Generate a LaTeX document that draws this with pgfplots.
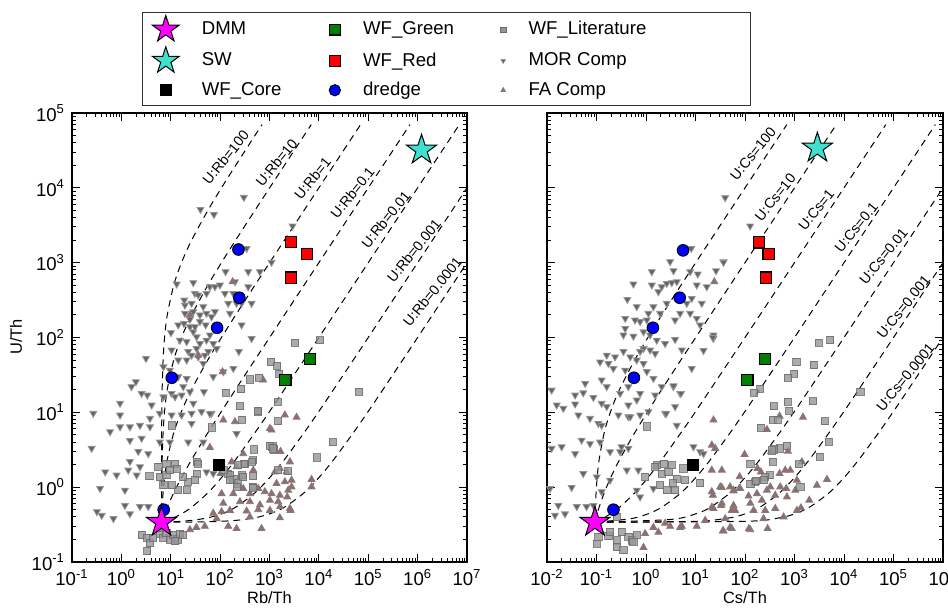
\documentclass[border=0pt]{standalone}
\usepackage{fontspec}
\setmainfont{Liberation Sans}
\usepackage{pgfplots}
\pgfplotsset{compat=1.18}

\definecolor{morfill}{RGB}{100,100,100}
\definecolor{mordraw}{RGB}{150,150,150}
\definecolor{fafill}{RGB}{155,105,105}
\definecolor{fadraw}{RGB}{125,125,125}
\definecolor{litfill}{RGB}{150,150,150}
\definecolor{litdraw}{RGB}{105,105,105}
\definecolor{wfgreen}{RGB}{0,128,0}
\definecolor{turq}{RGB}{64,224,208}
\definecolor{dmmmag}{RGB}{255,0,255}
\definecolor{pure red}{RGB}{255,0,0}
\definecolor{pure blue}{RGB}{0,0,255}
\definecolor{legdraw}{RGB}{50,50,50}

\pgfdeclareplotmark{fstar}{%
\pgfpathmoveto{\pgfpointpolar{90}{\pgfplotmarksize}}%
\pgfpathlineto{\pgfpointpolar{126}{0.382\pgfplotmarksize}}%
\pgfpathlineto{\pgfpointpolar{162}{\pgfplotmarksize}}%
\pgfpathlineto{\pgfpointpolar{198}{0.382\pgfplotmarksize}}%
\pgfpathlineto{\pgfpointpolar{234}{\pgfplotmarksize}}%
\pgfpathlineto{\pgfpointpolar{270}{0.382\pgfplotmarksize}}%
\pgfpathlineto{\pgfpointpolar{306}{\pgfplotmarksize}}%
\pgfpathlineto{\pgfpointpolar{342}{0.382\pgfplotmarksize}}%
\pgfpathlineto{\pgfpointpolar{18}{\pgfplotmarksize}}%
\pgfpathlineto{\pgfpointpolar{54}{0.382\pgfplotmarksize}}%
\pgfpathclose\pgfusepathqfillstroke}

\tikzset{lab/.style={font=\fontsize{7.1}{8}\selectfont, rotate=51, inner sep=0pt}}

\pgfplotsset{
 mor/.style={only marks, mark=triangle*, mark size=2pt, mark options={rotate=180, fill=morfill, draw=mordraw, line width=0.4pt}},
 fa/.style={only marks, mark=triangle*, mark size=2pt, mark options={fill=fafill, draw=fadraw, line width=0.4pt}},
 lit/.style={only marks, mark=square*, mark size=1.8pt, mark options={fill=litfill, draw=litdraw, line width=0.4pt, opacity=0.8}},
 core/.style={only marks, mark=square*, mark size=2.8pt, mark options={fill=black, draw=black, line width=0.5pt}},
 grn/.style={only marks, mark=square*, mark size=2.8pt, mark options={fill=wfgreen, draw=black, line width=0.6pt}},
 rd/.style={only marks, mark=square*, mark size=2.8pt, mark options={fill=pure red, draw=black, line width=0.6pt}},
 drd/.style={only marks, mark=*, mark size=2.9pt, mark options={fill=pure blue, draw=black, line width=0.5pt}},
 dmm/.style={only marks, mark=fstar, mark size=7.9pt, mark options={fill=dmmmag, draw=black, line width=0.5pt}},
 sw/.style={only marks, mark=fstar, mark size=7.9pt, mark options={fill=turq, draw=black, line width=0.5pt}},
 mix/.style={black, line width=0.5pt, dash pattern=on 3.4pt off 2.6pt, smooth, no markers},
}

\begin{document}
\begin{tikzpicture}
%================ LEFT PANEL =================
\begin{axis}[xmode=log, ymode=log, scale only axis, width=197.5pt, height=224.5pt,
  at={(36pt,-281pt)}, anchor=south west,
  xmin=0.1, xmax=1e7, ymin=0.1, ymax=1e5,
  tick align=inside, major tick length=4pt, minor tick length=2pt,
  tick style={black, line width=0.5pt}, axis line style={line width=1pt},
  tick label style={font=\fontsize{9.3}{10}\selectfont},
  xticklabel={10\textsuperscript{\pgfmathparse{int(round(\tick/2.302585093))}\pgfmathresult}},
  yticklabel={10\textsuperscript{\pgfmathparse{int(round(\tick/2.302585093))}\pgfmathresult}},
  label style={font=\fontsize{8.2}{10}\selectfont},
  xlabel={Rb/Th}, ylabel={U/Th},
  xlabel style={at={(axis description cs:0.5,-0.0802)}, anchor=center},
  ylabel style={at={(axis description cs:-0.1418,0.501)}, anchor=center},
  legend columns=3, legend cell align=left,
  legend style={at={(axis description cs:0.1772,1.2249)}, anchor=north west,
    draw=legdraw, line width=0.5pt, fill=white,
    font=\fontsize{9.3}{11}\selectfont, inner xsep=5pt, inner ysep=1.5pt,
    row sep=2.5pt}]

\addplot[mor, forget plot] table {
x y
13.2 518
28.6 540
30.9 388
36 369
53 388
62 476
78.5 476
99 502
129 757
200 556
371 757
640 757
371 476
125 388
185 388
146 286
215 286
272 286
434 286
158 210
272 147
434 97
240 65
185 38.6
116 34.8
72.6 29.9
47 18.8
67 9.7
42 10.2
26.4 9.7
16.6 9.2
10.4 9.2
6.0 9.7
3.8 8.3
0.94 13.2
0.94 9.2
0.27 9.7
1.6 22
1.97 25.6
3.15 52.5
2.57 17.9
3.35 17
4.1 12.5
7.1 16.1
10.4 17.9
12.2 16.1
16.6 17
24.5 18.8
28.6 13.2
17.9 22
21 28.4
14.2 29.9
9.6 36.6
7.1 40.6
10.4 68
14.2 50
21 50
22.6 65
21 88
15.3 92
10.1 116
14.2 147
18.5 154
24.5 139
28.6 119
33.4 102
39 83
33.4 71
26.4 58
36 55
49 58
45.5 45
53 92
62 108
72.6 83
85 71
57.5 65
19.4 210
28.6 221
39 200
53 210
67 189
78.5 221
45.5 258
26.4 286
19.4 271
24.5 175
39 163
51 147
30.9 139
18.8 316
40 5150
75 4400
303 7460
344 1550
1100 1010
2930 3090
0.59 5.5
0.94 6.4
1.49 6.4
2.38 6.7
3.8 6.4
26.4 7.1
0.25 3.3
1.49 4.2
2.57 4.5
2.2 3.0
3.5 2.8
1.49 2.2
2.38 1.87
1.38 1.69
0.47 1.6
0.80 1.45
2.04 1.45
22.6 4.0
53 1.6
72.6 1.52
215 5.2
0.37 0.96
1.18 0.91
0.69 0.38
1.18 0.57
2.38 0.55
0.32 0.47
0.40 0.42
1.49 0.44
3.5 0.55
9.6 4.0
6.0 4.0
45.6 4.0
62 9.6
};

\addplot[fa, forget plot] table {
x y
112 34.8
746 27
2050 9.2
3530 8.6
1020 6.1
1100 5.8
62 3.4
294 2.8
1670 3.0
2590 2.18
171 2.18
215 1.87
102 1.52
469 1.69
1290 1.6
1620 1.78
2210 1.6
2800 1.24
2050 1.18
1390 1.12
294 0.96
107 0.82
185 0.82
401 0.82
592 0.96
807 0.87
1100 0.82
1620 0.78
2390 0.91
2800 1.01
7100 1.27
7100 1.01
252 0.64
401 0.64
640 0.58
1020 0.67
1500 0.64
2290 0.74
116 0.61
107 0.47
158 0.49
344 0.48
592 0.50
1020 0.49
1620 0.39
2670 0.49
72.6 0.45
85 0.38
146 0.30
215 0.28
401 0.40
690 0.28
49 0.30
24.5 0.27
33 0.29
116 7.9
200 7.5
2590 0.52
1630 0.55
24.5 200
36 58
179 556
};

\addplot[lit, forget plot] table {
x y
10.4 6.7
5.6 1.87
8.2 2.07
12.2 2.07
13.2 1.77
33.4 2.18
33.4 1.52
30.9 1.24
22.6 1.18
21 0.91
14.2 0.91
10.4 1.06
7.1 1.06
6.0 1.37
3.7 1.40
8.2 1.45
9.6 1.69
17.9 1.37
146 1.52
185 1.30
318 2.07
272 1.45
469 2.30
592 10.2
2.57 0.23
3.35 0.21
3.8 0.18
3.35 0.14
4.4 0.21
6.0 0.24
7.1 0.21
9.6 0.20
11.2 0.23
14.2 0.20
8.2 0.245
3270 85
10500 92
1070 47
1430 42
1570 33
401 27.5
610 29
129 18.3
264 20.5
252 12.1
573 10.5
1460 13.8
281 8.0
67 6.3
1500 7.6
491 3.2
1150 3.5
1250 3.2
447 2.18
308 2.03
158 1.45
469 1.40
225 1.12
454 1.01
2390 1.64
65000 18.8
19000 4.0
9000 2.5
36 2.07
233 1.97
294 1.37
216 1.01
469 0.99
1020 3.6
1190 3.3
1500 1.69
158 1.24
116 1.69
6.05 0.29
15.4 0.24
12.2 0.19
17.9 0.23
};

\addplot[mix, forget plot] coordinates {(6.5,0.34)(6.5,0.44)(6.5,0.54)(6.505,0.84)(6.51,1.34)(6.52,2.34)(6.55,5.34)(6.6,10.3)(6.7,20.3)(7.0,50.3)(7.5,100)(8.5,200)(11.5,500)(16.5,1000)(26.5,2000)(56.5,5000)(106.5,10000)(206.5,20000)(506.5,50000)(706.5,70000)};
\addplot[mix, forget plot] coordinates {(6.5,0.34)(6.51,0.44)(6.52,0.54)(6.55,0.84)(6.6,1.34)(6.7,2.34)(7.0,5.34)(7.5,10.3)(8.5,20.3)(11.5,50.3)(16.5,100)(26.5,200)(56.5,500)(106.5,1000)(206.5,2000)(506.5,5000)(1006.5,10000)(2006.5,20000)(5006.5,50000)(7006.5,70000)};
\addplot[mix, forget plot] coordinates {(6.5,0.34)(6.6,0.44)(6.7,0.54)(7.0,0.84)(7.5,1.34)(8.5,2.34)(11.5,5.34)(16.5,10.3)(26.5,20.3)(56.5,50.3)(106.5,100)(206.5,200)(506.5,500)(1006.5,1000)(2006.5,2000)(5006.5,5000)(10006,10000)(70000,70000)};
\addplot[mix, forget plot] coordinates {(6.5,0.34)(7.5,0.44)(8.5,0.54)(11.5,0.84)(16.5,1.34)(26.5,2.34)(56.5,5.34)(106.5,10.3)(206.5,20.3)(506.5,50.3)(1006.5,100)(2006.5,200)(5006.5,500)(10000,1000)(100000,10000)(700000,70000)};
\addplot[mix, forget plot] coordinates {(6.5,0.34)(8.5,0.36)(11.5,0.39)(16.5,0.44)(26.5,0.54)(56.5,0.84)(106.5,1.34)(206.5,2.34)(506.5,5.34)(1006.5,10.3)(2006.5,20.3)(5006.5,50.3)(10000,100)(100000,1000)(1000000,10000)(7000000,70000)};
\addplot[mix, forget plot] coordinates {(6.5,0.34)(11.5,0.345)(26.5,0.36)(56.5,0.39)(106.5,0.44)(206.5,0.54)(506.5,0.84)(1006.5,1.34)(2006.5,2.34)(5006.5,5.34)(10000,10.3)(20000,20.3)(50000,50.3)(100000,100)(1000000,1000)(10000000,10000)};
\addplot[mix, forget plot] coordinates {(6.5,0.34)(56.5,0.345)(206.5,0.36)(506.5,0.39)(1006.5,0.44)(2006.5,0.54)(5006.5,0.84)(10000,1.34)(20000,2.34)(50000,5.34)(100000,10.3)(200000,20.3)(500000,50.3)(1000000,100)(10000000,1000)};

\node[lab] at (axis cs:130,25500) {U:Rb=100};
\node[lab] at (axis cs:1390,21700) {U:Rb=10};
\node[lab] at (axis cs:7450,13400) {U:Rb=1};
\node[lab] at (axis cs:48000,8600) {U:Rb=0.1};
\node[lab] at (axis cs:227000,3800) {U:Rb=0.01};
\node[lab] at (axis cs:840000,1440) {U:Rb=0.001};
\node[lab] at (axis cs:2000000,408) {U:Rb=0.0001};

\addplot[core, forget plot] coordinates {(95,2.0)};
\addplot[grn, forget plot] coordinates {(2100,27)(6600,52)};
\addplot[rd, forget plot] coordinates {(2700,1900)(5800,1300)(2700,630)};
\addplot[drd, forget plot] coordinates {(235,1500)(245,340)(87,135)(10.5,29)(7.2,0.50)};
\addplot[dmm, forget plot] coordinates {(6.5,0.34)};
\addplot[sw, forget plot] coordinates {(1.2e6,3.2e4)};

\addlegendimage{only marks, mark=fstar, mark size=7pt, mark options={fill=dmmmag, draw=black, line width=0.5pt}}
\addlegendentry{\hspace{9.35pt}\makebox[61.7pt][l]{DMM}}
\addlegendimage{only marks, mark=square*, mark size=2.7pt, mark options={fill=wfgreen, draw=black, line width=0.6pt}}
\addlegendentry{\hspace{9.35pt}\makebox[66.75pt][l]{WF\_Green}}
\addlegendimage{only marks, mark=square*, mark size=1.3pt, mark options={fill=litfill, draw=litdraw, line width=0.3pt}}
\addlegendentry{\hspace{9.35pt}\makebox[104pt][l]{WF\_Literature}}
\addlegendimage{only marks, mark=fstar, mark size=7pt, mark options={fill=turq, draw=black, line width=0.5pt}}
\addlegendentry{\hspace{9.35pt}\makebox[61.7pt][l]{SW}}
\addlegendimage{only marks, mark=square*, mark size=2.7pt, mark options={fill=pure red, draw=black, line width=0.6pt}}
\addlegendentry{\hspace{9.35pt}\makebox[66.75pt][l]{WF\_Red}}
\addlegendimage{only marks, mark=triangle*, mark size=1.4pt, mark options={rotate=180, fill=morfill, draw=mordraw, line width=0.3pt}}
\addlegendentry{\hspace{9.35pt}\makebox[104pt][l]{MOR Comp}}
\addlegendimage{only marks, mark=square*, mark size=2.7pt, mark options={fill=black, draw=black, line width=0.5pt}}
\addlegendentry{\hspace{9.35pt}\makebox[61.7pt][l]{WF\_Core}\rule[-5pt]{0pt}{5pt}}
\addlegendimage{only marks, mark=*, mark size=2.8pt, mark options={fill=pure blue, draw=black, line width=0.5pt}}
\addlegendentry{\hspace{9.35pt}\makebox[66.75pt][l]{dredge}}
\addlegendimage{only marks, mark=triangle*, mark size=1.4pt, mark options={fill=fafill, draw=fadraw, line width=0.3pt}}
\addlegendentry{\hspace{9.35pt}\makebox[104pt][l]{FA Comp}}
\end{axis}

%================ RIGHT PANEL =================
\begin{axis}[xmode=log, ymode=log, scale only axis, width=198pt, height=224.5pt,
  at={(273.5pt,-281pt)}, anchor=south west,
  xmin=0.01, xmax=1e6, ymin=0.1, ymax=1e5,
  tick align=inside, major tick length=4pt, minor tick length=2pt,
  tick style={black, line width=0.5pt}, axis line style={line width=1pt},
  tick label style={font=\fontsize{9.3}{10}\selectfont},
  xticklabel={10\textsuperscript{\pgfmathparse{int(round(\tick/2.302585093))}\pgfmathresult}},
  yticklabels={},
  label style={font=\fontsize{8.2}{10}\selectfont},
  xlabel={Cs/Th},
  xlabel style={at={(axis description cs:0.5,-0.0802)}, anchor=center}]

\addplot[mor, forget plot] table {
x y
3.07 1030
36.7 1030
0.556 518
1.31 502
1.78 409
2.08 476
2.62 528
3.32 540
4.19 556
10.6 502
16.9 476
0.42 323
0.65 258
1.41 258
2.62 286
6.67 286
8.4 333
13.4 286
4.89 210
7.8 210
10.6 180
12.4 147
3.87 171
1.93 210
1.12 210
1.04 171
0.76 163
0.38 180
0.60 171
0.38 132
0.35 108
0.556 104
0.89 119
1.21 108
1.65 92
2.43 83
3.87 94
23 108
23 97
14.5 67
8.4 38.6
5.3 68
0.89 71
1.21 68
1.53 61
0.76 65
0.35 65
0.237 55
0.48 55
0.161 58
0.118 47
0.174 45
0.219 38.6
0.38 36.6
0.65 50
0.89 45
1.04 35
1.41 28.4
2.08 22
3.58 22
4.89 17.9
3.87 11.9
2.43 9.7
1.53 17
0.76 17.9
0.65 14.6
0.44 12.5
0.161 22
0.127 27
0.059 24.3
0.054 18.2
0.037 17
0.0157 12.5
0.0214 11.3
0.037 12.9
0.0865 15.8
0.127 13.2
0.161 11.9
0.30 17.9
0.44 22
0.043 9.2
0.074 8.3
0.277 9.2
0.44 8.7
0.76 9.2
1.12 10.2
39.7 7380
127 3090
36.8 1010
8.2 1550
26 780
11.1 705
7.8 757
3.6 780
1.31 757
22.4 100
3.6 22.6
5.1 17.9
0.109 7.1
0.127 6.7
0.48 8.7
2.55 9.6
4.19 6.7
0.050 4.25
0.074 3.8
0.118 4.0
0.32 3.46
0.44 3.3
0.188 2.97
0.30 2.97
0.0124 3.3
0.0198 3.46
0.037 2.8
0.054 1.52
0.101 1.37
0.188 1.24
0.41 1.69
0.70 1.69
1.41 0.96
9.1 3.46
12.4 2.97
0.0315 0.99
0.0115 0.96
0.127 0.87
0.65 0.91
0.76 0.74
0.0145 0.42
0.0231 0.44
0.0169 0.57
0.040 0.55
0.063 0.55
0.0865 0.57
0.0124 19.8
14.5 2.8
};

\addplot[fa, forget plot] table {
x y
23.1 7.9
277 5.9
500 8.9
1480 8.6
21.4 3.65
25 3.3
98 2.74
179 1.78
209 1.6
333 2.97
736 3.03
1410 2.18
4530 1.27
2840 1.06
1990 0.67
31.6 1.01
78 1.38
80 0.96
22.4 0.78
34 0.61
21.4 0.54
58.7 0.89
118 0.76
128 0.61
174 0.82
219 0.67
277 0.91
324 1.01
408 0.78
515 1.01
682 0.96
703 0.74
1040 0.91
1120 1.24
500 1.52
650 1.69
820 1.69
256 0.49
237 0.38
408 0.52
149 0.49
63 0.49
39.8 0.38
15.7 0.36
10.6 0.30
5.3 0.30
36.8 0.26
54 0.28
128 0.27
286 0.28
1120 0.49
603 0.40
34 1.69
34 0.99
21.3 0.87
23 0.52
50 0.29
1.41 0.29
3.07 0.30
4.9 0.29
0.89 0.156
21.3 1.69
58.6 0.91
54 0.49
0.96 0.24
1.78 0.25
2.43 0.33
33 0.57
58.6 0.57
50 1.01
77 0.96
120 0.28
35.6 0.26
1350 0.53
24 556
};

\addplot[lit, forget plot] table {
x y
3070 85
5280 92.5
1090 47
2430 42.8
990 33
736 29
203 20.8
149 18.3
21400 18.8
2360 14.1
724 13.8
783 10.5
378 12.1
366 8.0
209 6.2
4060 7.6
4900 4.05
3220 2.55
703 3.54
500 3.3
390 3.2
366 2.18
128 2.07
314 1.45
256 1.38
161 1.18
128 1.10
1210 2.03
1310 1.01
12.4 1.14
5.7 1.78
6.2 1.24
1.04 6.5
1.65 1.97
2.32 2.07
3.32 1.97
2.08 1.52
2.84 1.6
4.19 1.30
3.48 1.12
2.62 0.91
3.87 0.91
1.93 1.06
1.53 1.87
0.96 1.37
0.109 0.217
0.101 0.176
0.174 0.221
0.256 0.195
0.256 0.159
0.35 0.144
0.44 0.217
0.51 0.195
0.65 0.228
0.556 0.186
0.188 0.252
0.32 0.252
0.256 0.40
455 8.0
349 3.1
237 1.24
168 1.22
};

\addplot[mix, forget plot] coordinates {(0.093,0.34)(0.094,0.44)(0.095,0.54)(0.098,0.84)(0.103,1.34)(0.113,2.34)(0.143,5.34)(0.193,10.3)(0.293,20.3)(0.593,50.3)(1.093,100)(2.09,200)(5.09,500)(10.1,1000)(20.1,2000)(100,10000)(700,70000)};
\addplot[mix, forget plot] coordinates {(0.093,0.34)(0.103,0.44)(0.113,0.54)(0.143,0.84)(0.193,1.34)(0.293,2.34)(0.593,5.34)(1.093,10.3)(2.09,20.3)(5.09,50.3)(10.1,100)(20.1,200)(100,1000)(1000,10000)(7000,70000)};
\addplot[mix, forget plot] coordinates {(0.093,0.34)(0.193,0.44)(0.293,0.54)(0.593,0.84)(1.093,1.34)(2.09,2.34)(5.09,5.34)(10.1,10.3)(100,100)(1000,1000)(70000,70000)};
\addplot[mix, forget plot] coordinates {(0.093,0.34)(0.5,0.38)(1.093,0.44)(2.09,0.54)(5.09,0.84)(10.1,1.34)(20.1,2.34)(50.1,5.34)(100,10.3)(200,20.3)(1000,100)(10000,1000)(700000,70000)};
\addplot[mix, forget plot] coordinates {(0.093,0.34)(3.09,0.37)(10.1,0.44)(20.1,0.54)(50.1,0.84)(100,1.34)(200,2.34)(500,5.34)(1000,10.3)(2000,20.3)(10000,100)(1000000,10000)};
\addplot[mix, forget plot] coordinates {(0.093,0.34)(10.1,0.35)(50.1,0.39)(100,0.44)(200,0.54)(500,0.84)(1000,1.34)(2000,2.34)(5000,5.34)(10000,10.3)(20000,20.3)(100000,100)(1000000,1000)};
\addplot[mix, forget plot] coordinates {(0.093,0.34)(100,0.35)(500,0.39)(1000,0.44)(2000,0.54)(5000,0.84)(10000,1.34)(20000,2.34)(50000,5.34)(100000,10.3)(200000,20.3)(1000000,100)};

\node[lab] at (axis cs:145,28300) {U:Cs=100};
\node[lab] at (axis cs:408,7470) {U:Cs=10};
\node[lab] at (axis cs:2750,5050) {U:Cs=1};
\node[lab] at (axis cs:17700,2970) {U:Cs=0.1};
\node[lab] at (axis cs:63000,1220) {U:Cs=0.01};
\node[lab] at (axis cs:160000,258) {U:Cs=0.001};
\node[lab] at (axis cs:174000,29.3) {U:Cs=0.0001};

\addplot[core, forget plot] coordinates {(8.8,2.0)};
\addplot[grn, forget plot] coordinates {(112,27)(250,52)};
\addplot[rd, forget plot] coordinates {(190,1870)(300,1300)(265,630)};
\addplot[drd, forget plot] coordinates {(5.6,1460)(4.8,340)(1.38,135)(0.57,29)(0.22,0.50)};
\addplot[dmm, forget plot] coordinates {(0.093,0.34)};
\addplot[sw, forget plot] coordinates {(2900,34000)};
\end{axis}

\pgfresetboundingbox
\useasboundingbox (0pt,0pt) rectangle (474pt,-305.5pt);
\end{tikzpicture}
\end{document}
